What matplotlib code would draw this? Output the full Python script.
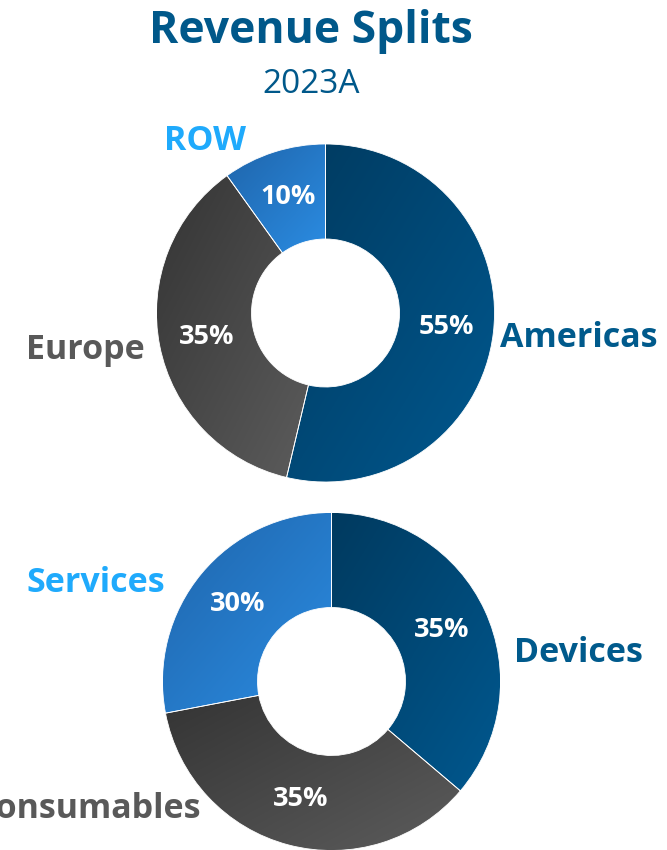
"""Revenue splits 2023A: two gradient donuts (region, product)."""
import matplotlib
matplotlib.use("Agg")
import matplotlib.pyplot as plt
import numpy as np
from matplotlib.colors import LinearSegmentedColormap

plt.rcParams["font.family"] = ["Open Sans", "DejaVu Sans"]

# data (wedge sizes as drawn; printed labels as shown on the chart)
regions = ["Americas", "Europe", "ROW"]
region_share = [53.7, 36.4, 9.9]
region_labels = ["55%", "35%", "10%"]
products = ["Devices", "Consumables", "Services"]
product_share = [36.2, 35.8, 28.0]
product_labels = ["35%", "35%", "30%"]

# styling
GRAD = {
    "navy": ("#003a5f", "#00588f"),
    "grey": ("#343434", "#5c5c5c"),
    "sky": ("#1f65ab", "#2b8ce2"),
}
LABEL_C = {"navy": "#005a8c", "grey": "#595959", "sky": "#1faafc"}
fills = ["navy", "grey", "sky"]
HOLE = 74 / 169

W, H = 667, 850
fig = plt.figure(figsize=(W / 100, H / 100), dpi=100)


def donut_axes(cx, cy, r):
    # square axes whose unit circle sits at pixel centre (cx, cy) with radius r
    ax = fig.add_axes([(cx - r) / W, (H - cy - r) / H, 2 * r / W, 2 * r / H])
    ax.set_xlim(-1, 1); ax.set_ylim(-1, 1)
    ax.axis("off")
    return ax


def gradient_fill(ax, wedge, c0, c1):
    x0, y0, x1, y1 = wedge.get_path().get_extents().extents
    u, v = np.meshgrid(np.linspace(0, 1, 200), np.linspace(0, 1, 200))
    t = (u + (1 - v)) / 2
    cmap = LinearSegmentedColormap.from_list("g", [c0, c1])
    im = ax.imshow(t, cmap=cmap, extent=(x0, x1, y0, y1), origin="lower",
                   interpolation="bilinear", aspect="auto", zorder=1)
    im.set_clip_path(wedge)
    wedge.set_facecolor("none")


def donut(ax, names, vals, pct_txt, label_pos):
    wedges, _ = ax.pie(
        vals, radius=1, startangle=90, counterclock=False,
        wedgeprops=dict(width=1 - HOLE, edgecolor="white", linewidth=0.6))
    rmid = (1 + HOLE) / 2
    for w, f, s in zip(wedges, fills, pct_txt):
        gradient_fill(ax, w, *GRAD[f])
        w.set_zorder(2)
        a = np.deg2rad((w.theta1 + w.theta2) / 2)
        ax.text(rmid * np.cos(a), rmid * np.sin(a), s, ha="center", va="center",
                color="white", fontsize=19.5, fontweight="bold", zorder=3)
    for name, f, (x, y, ha) in zip(names, fills, label_pos):
        ax.text(x, y, name, ha=ha, va="baseline", fontsize=24.5,
                fontweight="bold", color=LABEL_C[f], zorder=4)
    ax.set_xlim(-1, 1); ax.set_ylim(-1, 1)


ax1 = donut_axes(325.5, 313, 169)
donut(ax1, regions, region_share, region_labels,
      [(1.033, -0.201, "left"), (-1.068, -0.272, "right"), (-0.713, 0.964, "center")])

ax2 = donut_axes(331.5, 681.5, 169)
donut(ax2, products, product_share, product_labels,
      [(1.080, 0.115, "left"), (-0.778, -0.808, "right"), (-0.985, 0.530, "right")])

fig.text(311 / W, 1 - 43 / H, "Revenue Splits", ha="center", va="baseline",
         fontsize=32, fontweight="bold", color="#00588a")
fig.text(311 / W, 1 - 93 / H, "2023A", ha="center", va="baseline",
         fontsize=24, color="#00588a")

fig.savefig("out.png", dpi=100)
